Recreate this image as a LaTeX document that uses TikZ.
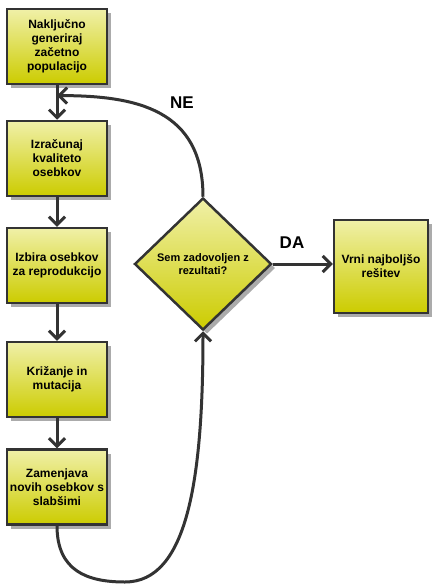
\documentclass[tikz,border=0pt]{standalone}
\usepackage{fontspec}
\setmainfont{Liberation Sans}
\usetikzlibrary{calc,arrows.meta,shapes.geometric,shadows}
\definecolor{boxtop}{RGB}{240,240,168}
\definecolor{boxbot}{RGB}{204,204,0}
\definecolor{edgegray}{RGB}{51,51,51}
\tikzset{
    >={Straight Barb[length=8pt,width=16pt]},
    stepshadow/.style={
        drop shadow={shadow xshift=4pt, shadow yshift=-4pt,
                     fill=black!33, opacity=1}
    },
    stepbox/.style={
        rectangle,
        top color=boxtop,
        bottom color=boxbot,
        draw=edgegray, line width=2.5pt,
        minimum width=100pt,
        minimum height=75pt,
        align=center,
        inner sep=2pt,
        font={\fontsize{12pt}{14pt}\selectfont\bfseries},
        stepshadow
    },
    decision/.style={
        diamond,
        top color=boxtop,
        bottom color=boxbot,
        draw=edgegray, line width=2.5pt,
        minimum width=137pt,
        minimum height=132pt,
        inner sep=0pt,
        align=center,
        font={\fontsize{11pt}{13pt}\selectfont\bfseries},
        stepshadow
    },
    line/.style={draw=edgegray, line width=3pt, ->},
    answer/.style={font={\fontsize{17pt}{20pt}\selectfont\bfseries}},
}
\begin{document}
\begin{tikzpicture}[x=1pt, y=-1pt]

\useasboundingbox (0,0) rectangle (437,588);

\foreach \n/\y/\t in {gen/46.5/{Naključno\\generiraj\\začetno\\populacijo},
                      izr/158.5/{Izračunaj\\kvaliteto\\osebkov},
                      izb/265.5/{Izbira osebkov\\za reprodukcijo},
                      kri/379.5/{Križanje in\\mutacija},
                      zam/487/{Zamenjava\\novih osebkov s\\slabšimi}}
  \node [stepbox] (\n) at (57,\y) {\t};

\node [decision] (dec) at (203,264) {Sem zadovoljen z\\rezultati?};
\node [stepbox, minimum width=94pt, minimum height=93pt] (res) at (381,266.5)
  {Vrni najboljšo\\rešitev};

\foreach \a/\b in {gen/izr, izr/izb, izb/kri, kri/zam}
  \draw [line] (\a) -- (\b);

\draw [line] (dec.east) -- (dec.east -| res.west);

\coordinate (back) at ($(gen.south)!0.3!(izr.north)$);
\draw [line] (dec.north) .. controls +(0,-87) and +(80,0) .. (back);

\coordinate (low) at (125,582);
\draw [line] (zam.south) .. controls +(0,45) and +(-38,0) .. (low)
  .. controls +(62,0) and +(0,150) .. (dec.south);

\node [answer] (ne) at (182,103) {NE};
\node [answer] (da) at (292,243) {DA};

\end{tikzpicture}
\end{document}
